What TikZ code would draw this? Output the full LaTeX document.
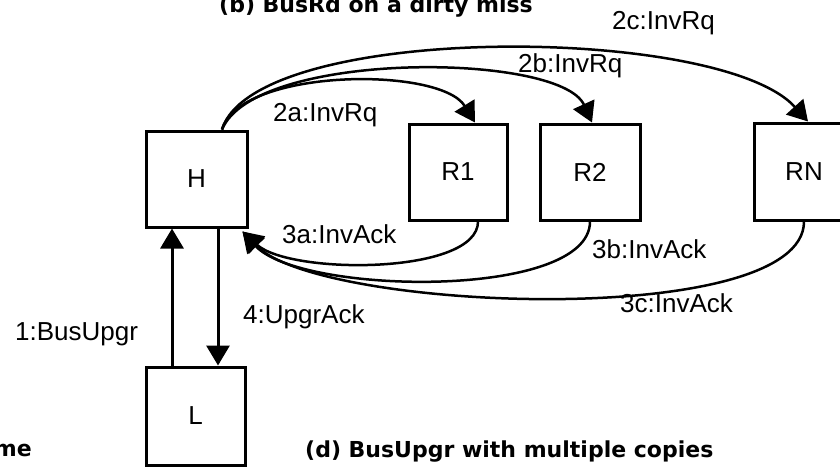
\documentclass[tikz,border=0pt]{standalone}
\usepackage{fontspec}
\setmainfont{Liberation Sans}
\newfontfamily\titlef{DejaVu Sans}
\usetikzlibrary{arrows.meta,calc}
\tikzset{
  box/.style={draw,line width=3pt,inner sep=0pt,font=\fontsize{26}{30}\selectfont},
  lbl/.style={inner sep=0pt,anchor=base west,font=\fontsize{26}{30}\selectfont},
  ttl/.style={inner sep=0pt,font=\titlef\bfseries\fontsize{22}{26}\selectfont},
  arr/.style={line width=3pt,-{Triangle[width=23pt,length=20pt]}},
  arc/.style={line width=2.5pt,-{Triangle[width=23pt,length=20pt]}}
}
\begin{document}
\begin{tikzpicture}[x=1pt,y=-1pt]
\useasboundingbox (0,0) rectangle (840,467);
\clip (0,0) rectangle (840,467);
\fill[white] (0,0) rectangle (840,467);
% boxes
\node[box,minimum width=101pt,minimum height=96pt] (H) at (196.5,179) {H};
\node[box,minimum width=98pt,minimum height=96pt] (R1) at (458,172) {R1};
\node[box,minimum width=100pt,minimum height=96pt] (R2) at (590,172) {R2};
\node[box,minimum width=100pt,minimum height=97pt] (RN) at (804,171.5) {RN};
\node[box,minimum width=99pt,minimum height=98pt] (L) at (195.5,416) {L};
% titles
\node[ttl,anchor=base west] (tb) at (219,12) {(b) BusRd on a dirty miss};
\node[ttl,anchor=base west] (td) at (305,457) {(d) BusUpgr with multiple copies};
\node[ttl,anchor=base east] (tm) at (32,456) {me};
% vertical arrows
\coordinate (ux) at (172,0);
\coordinate (dx) at (218,0);
\draw[arr] (ux |- L.north) -- (ux |- H.south);
\draw[arr] (dx |- H.south) -- (dx |- L.north);
% top arcs
\coordinate (hs) at ($(H.north)+(25.5,0)$);
\draw[arc] (hs) .. controls (240,68) and (440,66) .. ($(R1.north)+(17,0)$);
\draw[arc] (hs) .. controls (255,50) and (560,52) .. ($(R2.north)+(2,0)$);
\draw[arc] (hs) .. controls (255,22) and (720,24) .. ($(RN.north)+(4,0)$);
% bottom arcs
\coordinate (he) at ($(H.south east)+(-6,3)$);
\draw[arc] ($(R1.south)+(20,0)$) .. controls (478,275) and (290,275) .. (he);
\draw[arc] (R2.south) .. controls (590,300) and (300,295) .. (he);
\draw[arc] (RN.south) .. controls (804,330) and (320,312) .. (he);
% labels
\node[lbl] (l2c) at (612,29) {2c:InvRq};
\node[lbl] (l2b) at (518,72) {2b:InvRq};
\node[lbl] (l2a) at (273,121) {2a:InvRq};
\node[lbl] (l3a) at (282,243) {3a:InvAck};
\node[lbl] (l3b) at (592,258) {3b:InvAck};
\node[lbl] (l3c) at (620,312) {3c:InvAck};
\node[lbl] (l1) at (15,340) {1:BusUpgr};
\node[lbl] (l4) at (243,323) {4:UpgrAck};
\end{tikzpicture}
\end{document}
